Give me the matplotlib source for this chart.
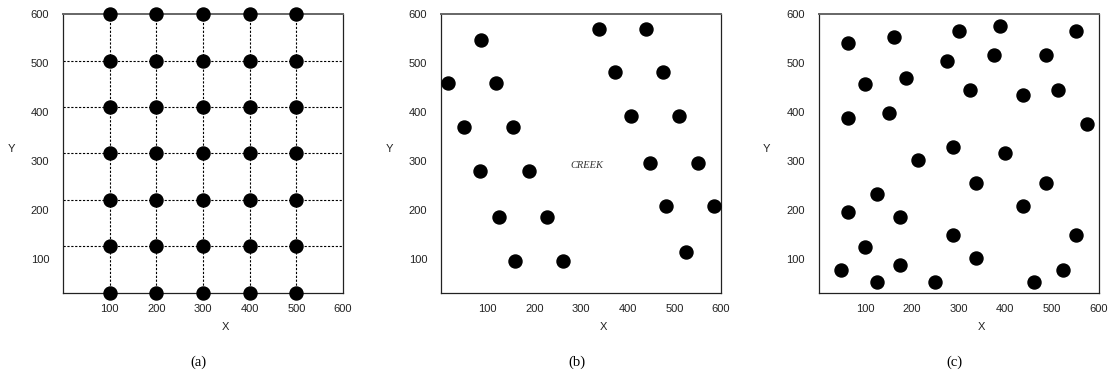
#Purpose: three sampling layouts on a 600 x 600 field (grid, creek, random)

import numpy as np
import matplotlib
matplotlib.use("Agg")
import matplotlib.pyplot as plt

plt.rcParams['font.family'] = ['Liberation Sans', 'DejaVu Sans']

#data
grid_x = [100, 200, 300, 400, 500]
grid_y = [31, 126, 221, 316, 410, 505, 600]

creek_x = [16, 85, 118, 50, 154, 84, 188, 125, 228, 159, 262, 338, 440, 372, 475,
           406, 509, 447, 551, 481, 584, 525]
creek_y = [459, 547, 459, 369, 369, 280, 280, 185, 185, 96, 96, 570, 570, 481, 481,
           392, 392, 297, 297, 208, 208, 114]

rand_x = [62, 162, 300, 388, 551, 275, 375, 487, 99, 187, 325, 437, 513, 62, 151,
          576, 213, 287, 400, 338, 487, 125, 62, 175, 437, 288, 551, 99, 338, 49,
          175, 524, 125, 250, 462]
rand_y = [541, 553, 565, 576, 565, 505, 517, 517, 457, 470, 446, 434, 446, 387, 398,
          375, 303, 328, 316, 256, 256, 233, 197, 185, 209, 149, 149, 125, 102, 78,
          89, 78, 54, 54, 54]

xticks = [100, 200, 300, 400, 500, 600]
yticks = [100, 200, 300, 400, 500, 600]
captions = ['(a)', '(b)', '(c)']

fig = plt.figure(figsize=(11.1, 3.77), dpi=100)
lefts = [0.0568, 0.3973, 0.7375]
axes = [fig.add_axes([l, 0.2228, 0.2523, 0.740]) for l in lefts]

gx, gy = np.meshgrid(grid_x, grid_y)
datasets = [(gx.ravel(), gy.ravel()), (creek_x, creek_y), (rand_x, rand_y)]

for i, ax in enumerate(axes):
    ax.set_xlim(0, 600)
    ax.set_ylim(31, 600)
    # grid lines only in the first panel
    if i == 0:
        for x in grid_x:
            ax.plot([x, x], [grid_y[0], grid_y[-1]], color='black', ls=(0, (2, 1.5)), lw=0.8, zorder=1)
        for y in grid_y[1:-1]:
            ax.plot([0, 600], [y, y], color='black', ls=(0, (2, 1.5)), lw=0.8, zorder=1)
    x, y = datasets[i]
    ax.scatter(x, y, s=88, color='black', zorder=3, clip_on=False)

    ax.set_xticks(xticks)
    ax.set_yticks(yticks)
    ax.tick_params(length=0, labelsize=8, colors='#222222', pad=8)
    ax.tick_params(axis='y', pad=10)
    for side in ['left', 'right', 'bottom']:
        ax.spines[side].set_color('#222222')
        ax.spines[side].set_linewidth(0.9)
    ax.spines['top'].set_color('#666666')
    ax.spines['top'].set_linewidth(1.4)

    ax.set_xlabel('X', fontsize=8, color='#222222')
    ax.xaxis.set_label_coords(0.58, -0.105)
    ax.set_ylabel('Y', fontsize=8, color='#222222', rotation=0)
    ax.yaxis.set_label_coords(-0.185, 0.5)

    fig.text(lefts[i] + 0.2523 / 2 - 0.004, 0.04, captions[i], ha='center', va='center',
             fontsize=10.5, family=['Liberation Serif', 'DejaVu Serif'])

axes[1].text(312, 291, 'CREEK', fontsize=7.5, style='italic', ha='center', va='center',
             color='#333333', family=['Liberation Serif', 'DejaVu Serif'])

fig.savefig('out.png', dpi=100)
